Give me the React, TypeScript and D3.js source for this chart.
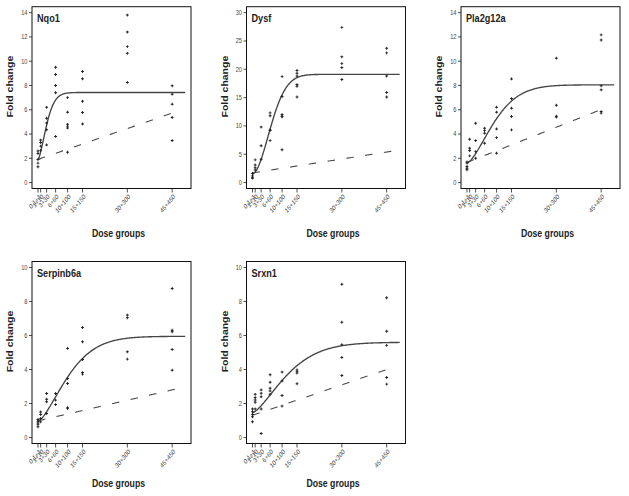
import React from 'react';
import * as d3 from 'd3';

// ---------- data ----------
const doses = [0.1, 1, 3, 6, 10, 15, 30, 45];
const doseLabels = ['0.1+1', '1+10', '3+30', '6+60', '10+100', '15+150', '30+300', '45+450'];

const genes = ['Nqo1', 'Dysf', 'Pla2g12a', 'Serpinb6a', 'Srxn1'];
const yMaxes = [14, 30, 14, 10, 10];
const ySteps = [2, 5, 2, 2, 2];

// observed fold changes per dose group
const nqo1Obs = [
  [2.6, 2.4, 1.9, 1.6, 1.3],
  [3.5, 3.3, 3.0, 2.65],
  [6.2, 5.3, 4.9, 4.35, 3.1],
  [9.5, 8.9, 8.0, 7.4, 3.8],
  [7.0, 5.8, 4.8, 4.65, 4.5, 2.5],
  [9.15, 8.55, 6.7, 5.77, 4.83],
  [13.8, 12.4, 11.2, 10.65, 8.25],
  [7.97, 7.28, 6.46, 5.36, 3.46],
];
const dysfObs = [
  [1.6, 1.18, 0.95, 0.77],
  [4.0, 3.1, 2.6, 2.2],
  [9.8, 6.5, 4.1],
  [12.3, 11.8, 9.3, 9.2, 7.4],
  [18.7, 15.2, 12.0, 11.7, 11.6, 5.8],
  [19.8, 19.3, 18.8, 17.3, 17.0, 15.1],
  [27.4, 22.2, 21.0, 20.3, 18.2],
  [23.7, 22.9, 18.8, 15.9, 15.1],
];
const pla2g12aObs = [
  [1.7, 1.6, 1.32, 1.18, 1.05],
  [3.57, 2.83, 2.64, 2.2],
  [4.89, 3.46, 2.55, 2.0],
  [4.48, 4.28, 4.07, 3.24],
  [6.21, 5.8, 4.42, 3.7, 2.42],
  [8.54, 6.92, 6.13, 5.44, 4.34],
  [10.25, 6.37, 5.47, 5.39],
  [12.17, 11.75, 7.97, 7.64, 5.85, 5.72],
];
const serpinb6aObs = [
  [1.06, 0.96, 0.86, 0.76, 0.63],
  [1.5, 1.35, 1.12, 0.92],
  [2.59, 2.25, 2.1, 1.41],
  [2.59, 2.2, 1.94],
  [5.24, 3.47, 3.18, 1.76, 1.7],
  [6.47, 5.63, 4.59, 3.82, 3.73],
  [7.2, 7.04, 5.04, 4.61],
  [8.76, 6.31, 6.22, 5.18, 3.96],
];
const srxn1Obs = [
  [1.68, 1.52, 1.36, 1.22, 0.93],
  [2.54, 2.35, 2.21, 2.07, 1.68],
  [2.8, 2.6, 2.4, 1.68, 0.24],
  [3.69, 3.25, 2.9, 2.74, 2.54],
  [3.85, 3.33, 2.47, 1.85],
  [3.98, 3.89, 3.79, 3.16],
  [9.01, 6.78, 5.46, 4.71, 3.65],
  [8.22, 6.25, 5.42, 3.53, 3.14],
];
const observations = [nqo1Obs, dysfObs, pla2g12aObs, serpinb6aObs, srxn1Obs];

// fitted exponential dose-response model: [background, maximum, scale, power]
const solidFits = [
  [1.85, 7.42, 3.65, 1.58],
  [1.5, 19.1, 7.85, 1.9],
  [1.6, 8.05, 11.2, 1.55],
  [0.95, 5.95, 12.3, 1.5],
  [1.45, 5.6, 14.0, 1.45],
];
// reference (dashed) linear trend: [intercept, slope]
const dashedFits = [
  [1.9, 0.085],
  [1.7, 0.082],
  [1.65, 0.097],
  [0.98, 0.0405],
  [1.3, 0.06],
];

// ---------- layout ----------
const W = 629;
const H = 496;
const colLeft = [32, 246.5, 461];
const rowTop = [6.7, 261.5];
const rowHeight = [181.8, 182];
const rowXLabelY = [236.5, 486.5];
const panelW = 159;
const SX = 0.83; // horizontal squeeze of the original figure
const panelPos = [
  [0, 0],
  [1, 0],
  [2, 0],
  [0, 1],
  [1, 1],
];

const curveX = d3.range(0.1, 49.5001, 0.25);
const dashX = d3.range(0.1, 47.5001, 0.25);

function Panel({ i }: { i: number }) {
  const [c, r] = panelPos[i];
  const left = colLeft[c];
  const top = rowTop[r];
  const h = rowHeight[r];
  const bottom = top + h;
  const ymax = yMaxes[i];
  const x = d3.scaleLinear().domain([-1.9, 51.3]).range([left, left + panelW]);
  const y = d3
    .scaleLinear()
    .domain([-0.035 * ymax, 1.035 * ymax])
    .range([bottom, top]);
  const yTicks = d3.range(0, ymax + 0.001, ySteps[i]);
  const [b, t, k, d] = solidFits[i];
  const solid = d3
    .line<number>()
    .x((v) => x(v))
    .y((v) => y(b + (t - b) * (1 - Math.exp(-Math.pow(v / k, d)))));
  const [a0, s] = dashedFits[i];
  const dashed = d3
    .line<number>()
    .x((v) => x(v))
    .y((v) => y(a0 + s * v));
  const sym = d3.symbol(d3.symbolCross, 4.5)();
  const pts: { dx: number; v: number }[] = [];
  observations[i].forEach((arr, j) => arr.forEach((v) => pts.push({ dx: doses[j], v })));

  return (
    <g>
      {/* y axis */}
      {yTicks.map((tv) => (
        <g key={'y' + tv}>
          <line x1={left - 3} x2={left} y1={y(tv)} y2={y(tv)} stroke="#222" strokeWidth={0.8} />
          <text
            transform={`translate(${left - 4.5},${y(tv)}) scale(${SX},1)`}
            textAnchor="end"
            dy="0.35em"
            fontSize={6.8}
            fill="#444"
          >
            {tv}
          </text>
        </g>
      ))}
      {/* x axis */}
      {doses.map((dv, j) => (
        <g key={'x' + j}>
          <line x1={x(dv)} x2={x(dv)} y1={bottom} y2={bottom + 4} stroke="#222" strokeWidth={0.8} />
          <text
            transform={`translate(${x(dv) + 2},${bottom + 7}) scale(${SX},1) rotate(-45)`}
            textAnchor="end"
            dy="0.35em"
            fontSize={6.8}
            fill="#444"
          >
            {doseLabels[j]}
          </text>
        </g>
      ))}
      {/* curves */}
      <path d={dashed(dashX) || ''} fill="none" stroke="#4a4a4a" strokeWidth={1.1} strokeDasharray="7.5,11.5" />
      <path d={solid(curveX) || ''} fill="none" stroke="#454545" strokeWidth={1.35} />
      {/* points */}
      {pts.map((p, j) => (
        <path key={'p' + j} d={sym || ''} transform={`translate(${x(p.dx)},${y(p.v)})`} fill="#222" />
      ))}
      {/* box */}
      <rect x={left} y={top} width={panelW} height={h} fill="none" stroke="#111" strokeWidth={1} />
      {/* title */}
      <text
        transform={`translate(${left + 5},${top + 15}) scale(${SX},1)`}
        fontSize={11}
        fontWeight="bold"
        fill="#222"
      >
        {genes[i]}
      </text>
      {/* axis titles */}
      <text
        transform={`translate(${left - 22},${top + h / 2 - 11}) scale(${SX},1) rotate(-90)`}
        textAnchor="middle"
        dy="0.35em"
        fontSize={10.5}
        fontWeight="bold"
        fill="#222"
      >
        Fold change
      </text>
      <text
        transform={`translate(${left + panelW / 2 + 7},${rowXLabelY[r]}) scale(${SX},1)`}
        textAnchor="middle"
        fontSize={10.5}
        fontWeight="bold"
        fill="#222"
      >
        Dose groups
      </text>
    </g>
  );
}

export default function App() {
  return (
    <svg
      width={W}
      height={H}
      style={{ position: 'absolute', left: 0, top: 0, background: '#fff', fontFamily: 'Liberation Sans, Arial, sans-serif' }}
    >
      {genes.map((g, i) => (
        <Panel key={g} i={i} />
      ))}
    </svg>
  );
}
